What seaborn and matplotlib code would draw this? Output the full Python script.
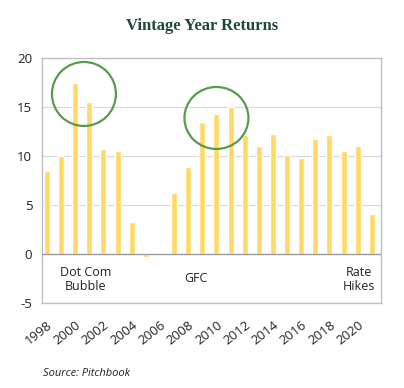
import matplotlib
matplotlib.use("Agg")
import matplotlib.pyplot as plt
import seaborn as sns
import pandas as pd
from matplotlib.patches import Ellipse

years = list(range(1998, 2022))
returns = [8.5, 10.0, 17.5, 15.5, 10.7, 10.5, 3.3, -0.3, 0.1, 6.2, 8.9, 13.5,
           14.3, 15.0, 12.1, 11.0, 12.2, 10.1, 9.8, 11.7, 12.1, 10.5, 11.0, 4.1]
tick_labels = [str(y) for y in range(1998, 2021, 2)]
events = ["Dot Com\nBubble", "GFC", "Rate\nHikes"]
event_x = [2.76, 10.55, 22.08]
event_y = [-2.6, -2.45, -2.6]

df = pd.DataFrame({"year": [str(y) for y in years], "ret": returns})

sns.set_theme(style="white")
plt.rcParams['font.family'] = ['Open Sans', 'DejaVu Sans']

fig = plt.figure(figsize=(4.04, 3.88), dpi=100)
ax = fig.add_axes([42/404, 1-303/388, (381-42)/404, (303-58)/388])

sns.barplot(data=df, x="year", y="ret", color="#FFD966", saturation=1,
            width=0.42, ax=ax)

ax.set_ylim(-5, 20)
ax.set_xlim(-0.35, 23.65)
ax.set_yticks([-5, 0, 5, 10, 15, 20])
ax.set_yticklabels(["-5", "0", "5", "10", "15", "20"], fontsize=9.5, color="#222222")
ax.set_xticks(list(range(0, 24, 2)))
ax.set_xticklabels(tick_labels, rotation=38, ha="right", rotation_mode="anchor",
                   fontsize=9.5, color="#222222")
ax.tick_params(axis="x", length=0, pad=11)
ax.tick_params(axis="y", length=0, pad=7)
ax.set_xlabel("")
ax.set_ylabel("")

for y in [5, 10, 15]:
    ax.axhline(y, color="#d9d9d9", lw=0.8, zorder=0)
ax.axhline(0, color="#9a9a9a", lw=1.0, zorder=3)
for s in ax.spines.values():
    s.set_color("#bfbfbf")
    s.set_linewidth(1.0)

for label, x, y in zip(events, event_x, event_y):
    ax.text(x, y, label, ha="center", va="center", fontsize=9,
            color="#222222", linespacing=1.15)

unit_w = (381 - 42) / 24.0
unit_h = (303 - 58) / 25.0
ax.add_patch(Ellipse((2.62, 16.33), 2*32/unit_w, 2*32/unit_h, fill=False,
                     edgecolor="#5a9a4f", lw=1.6, zorder=5, clip_on=False))
ax.add_patch(Ellipse((12.0, 13.88), 2*32/unit_w, 2*31/unit_h, fill=False,
                     edgecolor="#5a9a4f", lw=1.6, zorder=5, clip_on=False))

fig.text(0.5, 1-26/388, "Vintage Year Returns", ha="center", va="center",
         fontsize=12, fontweight="bold", color="#1e4a35",
         family=["Liberation Serif", "DejaVu Serif"])
fig.text(43/404, 1-374/388, "Source: Pitchbook", ha="left", va="center",
         fontsize=8, style="italic", color="#222222")

fig.savefig("out.png", dpi=100)
